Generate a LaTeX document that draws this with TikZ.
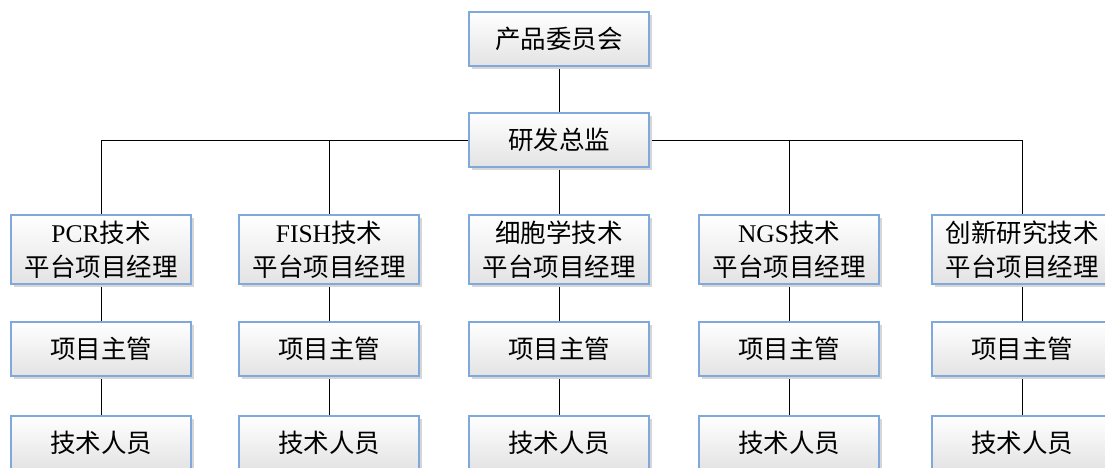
\documentclass[tikz,border=0pt]{standalone}
\usepackage{fontspec}
\setmainfont{Liberation Serif}
\newfontfamily\cjk{Noto Sans CJK SC}
\newcommand\zh[1]{{\cjk #1}}
\usetikzlibrary{shadows,backgrounds}
\definecolor{boxborder}{HTML}{7FA8DC}
\tikzset{
  box/.style={draw=boxborder, line width=1.1pt, top color=white, bottom color=black!11,
    minimum width=180pt, minimum height=54pt, align=center, inner sep=0pt,
    font=\fontsize{25.5}{34}\selectfont,
    drop shadow={shadow xshift=3pt, shadow yshift=-3pt, fill=black!16, opacity=1}},
  tall/.style={minimum height=69pt},
  link/.style={draw=black, line width=0.8pt}
}
\begin{document}
\begin{tikzpicture}[x=1pt,y=1pt]
\useasboundingbox (0,0) rectangle (1105,-468);
\node[box] (top) at (559,-39) {\zh{产品委员会}};
\node[box] (dir) at (559,-140) {\zh{研发总监}};
\node[box,tall] (m1) at (101,-249.5) {PCR\zh{技术}\\\zh{平台项目经理}};
\node[box,tall] (m2) at (329,-249.5) {FISH\zh{技术}\\\zh{平台项目经理}};
\node[box,tall] (m3) at (559,-249.5) {\zh{细胞学技术}\\\zh{平台项目经理}};
\node[box,tall] (m4) at (789,-249.5) {NGS\zh{技术}\\\zh{平台项目经理}};
\node[box,tall] (m5) at (1022,-249.5) {\zh{创新研究技术}\\\zh{平台项目经理}};
\foreach \i/\x in {1/101,2/329,3/559,4/789,5/1022}{
  \node[box] (s\i) at (\x,-349) {\zh{项目主管}};
  \node[box] (t\i) at (\x,-443) {\zh{技术人员}};
}
\begin{scope}[on background layer]
\draw[link] (top) -- (dir);
\draw[link] (dir.west) -| (m1.north);
\draw[link] (dir.west) -| (m2.north);
\draw[link] (dir) -- (m3);
\draw[link] (dir.east) -| (m4.north);
\draw[link] (dir.east) -| (m5.north);
\foreach \i in {1,...,5}{
  \draw[link] (m\i) -- (s\i);
  \draw[link] (s\i) -- (t\i);
}
\end{scope}
\end{tikzpicture}
\end{document}
